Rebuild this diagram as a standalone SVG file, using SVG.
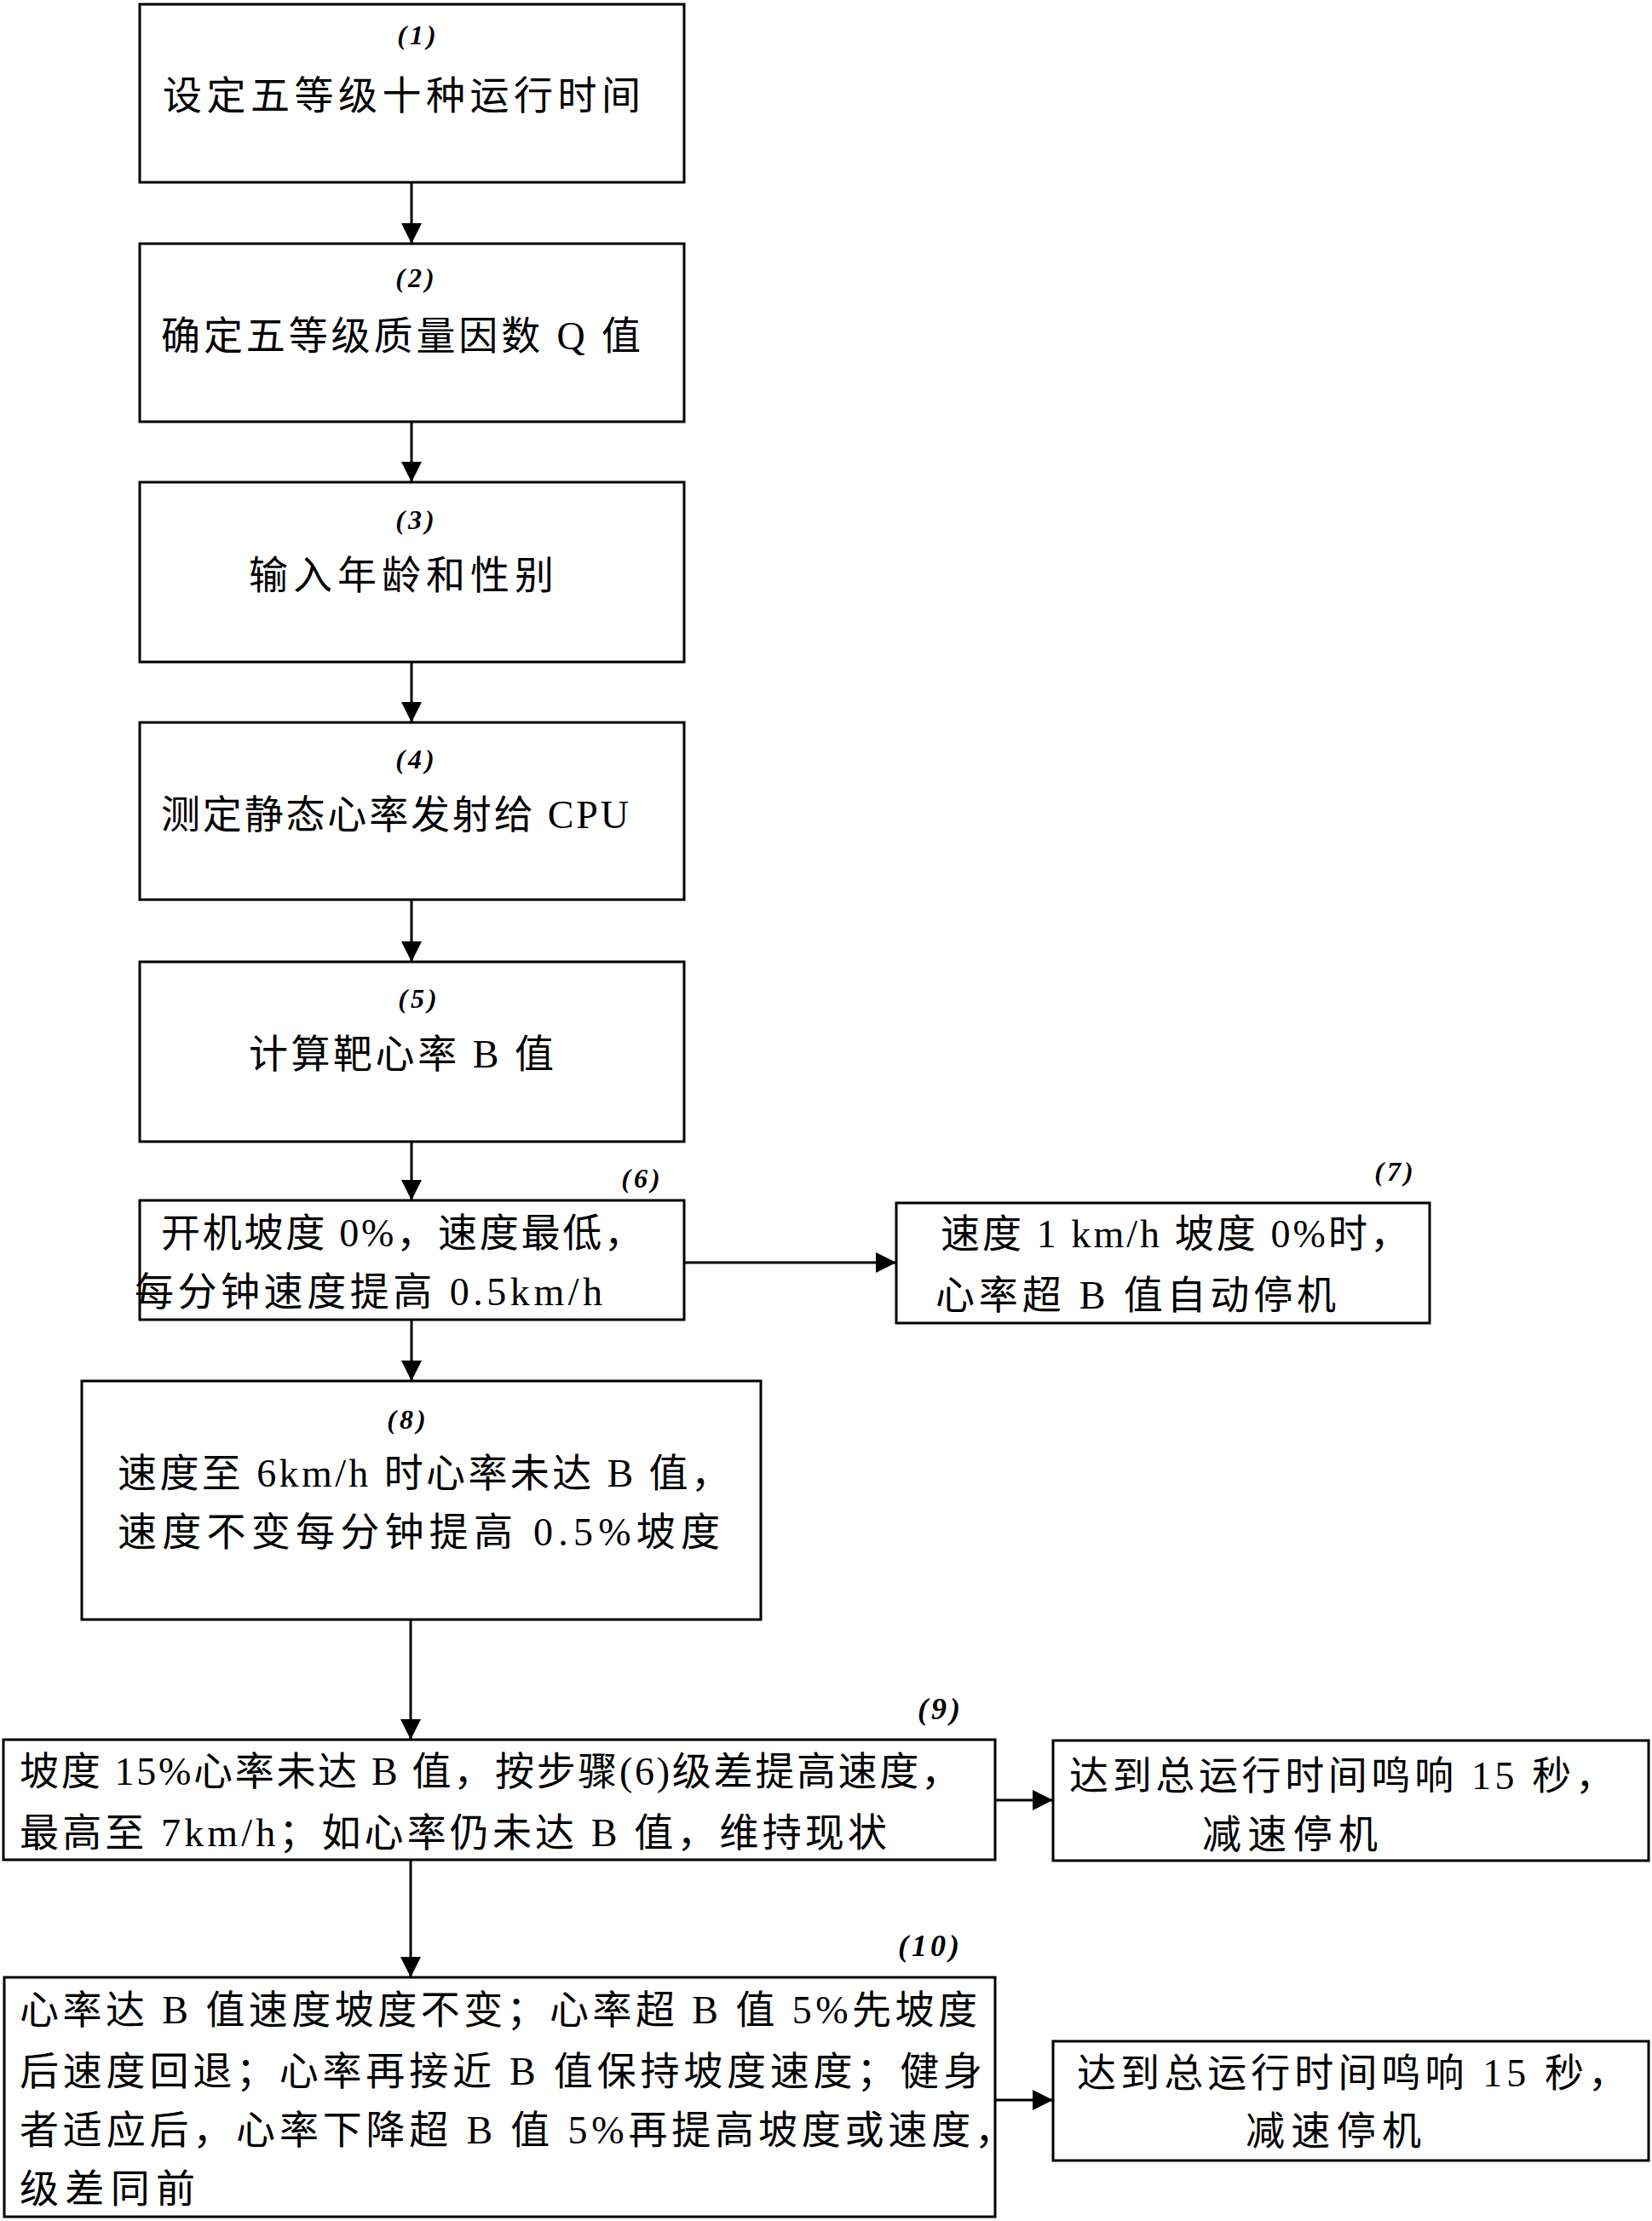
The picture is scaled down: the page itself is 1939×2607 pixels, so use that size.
<svg xmlns="http://www.w3.org/2000/svg" width="1939" height="2607" viewBox="0 0 1939 2607">
<style>
.box{fill:#fff;stroke:#000;stroke-width:3}
.t{font-family:"Liberation Serif","Noto Sans CJK SC",serif;font-size:46px;fill:#000}
.lb{font-family:"Liberation Serif",serif;font-style:italic;font-weight:bold;font-size:32px;letter-spacing:4px;fill:#000;text-anchor:middle}
.lb2{font-family:"Liberation Serif",serif;font-style:italic;font-weight:bold;font-size:36px;letter-spacing:4px;fill:#000;text-anchor:middle}
.c{stroke:#000;stroke-width:3;fill:none;marker-end:url(#ah)}
</style>
<defs>
<marker id="ah" markerUnits="userSpaceOnUse" markerWidth="24" markerHeight="24" refX="24" refY="12" orient="auto">
<path d="M0,0 L24,12 L0,24 z" fill="#000"/>
</marker>
</defs>
<rect width="1939" height="2607" fill="#fff"/>
<g id="connectors">
<line class="c" x1="483" y1="214" x2="483" y2="286"/>
<line class="c" x1="483" y1="495" x2="483" y2="566"/>
<line class="c" x1="483" y1="777" x2="483" y2="848"/>
<line class="c" x1="483" y1="1056" x2="483" y2="1129"/>
<line class="c" x1="483" y1="1340" x2="483" y2="1409"/>
<line class="c" x1="803" y1="1482" x2="1052" y2="1482"/>
<line class="c" x1="483" y1="1549" x2="483" y2="1621"/>
<line class="c" x1="482" y1="1901" x2="482" y2="2042"/>
<line class="c" x1="1168" y1="2113" x2="1236" y2="2113"/>
<line class="c" x1="482" y1="2183" x2="482" y2="2321"/>
<line class="c" x1="1168" y1="2465" x2="1236" y2="2465"/>
</g>
<g id="n1">
<rect class="box" x="164" y="5" width="639" height="209"/>
<text class="lb" x="491" y="52">(1)</text>
<text class="t" x="191" y="128" textLength="561" lengthAdjust="spacing">设定五等级十种运行时间</text>
</g>
<g id="n2">
<rect class="box" x="164" y="286" width="639" height="209"/>
<text class="lb" x="489" y="337">(2)</text>
<text class="t" x="189" y="410" textLength="563" lengthAdjust="spacing">确定五等级质量因数 Q 值</text>
</g>
<g id="n3">
<rect class="box" x="164" y="566" width="639" height="211"/>
<text class="lb" x="489" y="621">(3)</text>
<text class="t" x="292" y="691" textLength="358" lengthAdjust="spacing">输入年龄和性别</text>
</g>
<g id="n4">
<rect class="box" x="164" y="848" width="639" height="208"/>
<text class="lb" x="489" y="902">(4)</text>
<text class="t" x="189" y="972" textLength="549" lengthAdjust="spacing">测定静态心率发射给 CPU</text>
</g>
<g id="n5">
<rect class="box" x="164" y="1129" width="639" height="211"/>
<text class="lb" x="492" y="1183">(5)</text>
<text class="t" x="292" y="1253" textLength="358" lengthAdjust="spacing">计算靶心率 B 值</text>
</g>
<g id="n6">
<rect class="box" x="164" y="1409" width="639" height="140"/>
<text class="lb" x="754" y="1394">(6)</text>
<text class="t" x="189" y="1463" textLength="566" lengthAdjust="spacing">开机坡度 0%，速度最低，</text>
<text class="t" x="158" y="1532" textLength="549" lengthAdjust="spacing">每分钟速度提高 0.5km/h</text>
</g>
<g id="n7">
<rect class="box" x="1052" y="1412" width="626" height="141"/>
<text class="lb" x="1638" y="1386">(7)</text>
<text class="t" x="1104" y="1464" textLength="550" lengthAdjust="spacing">速度 1 km/h 坡度 0%时，</text>
<text class="t" x="1098" y="1536" textLength="470" lengthAdjust="spacing">心率超 B 值自动停机</text>
</g>
<g id="n8">
<rect class="box" x="96" y="1621" width="797" height="280"/>
<text class="lb" x="479" y="1677">(8)</text>
<text class="t" x="138" y="1745" textLength="719" lengthAdjust="spacing">速度至 6km/h 时心率未达 B 值，</text>
<text class="t" x="138" y="1814" textLength="707" lengthAdjust="spacing">速度不变每分钟提高 0.5%坡度</text>
</g>
<g id="n9">
<rect class="box" x="4" y="2042" width="1164" height="141"/>
<text class="lb2" x="1104" y="2018">(9)</text>
<text class="t" x="23" y="2095" textLength="1104" lengthAdjust="spacing">坡度 15%心率未达 B 值，按步骤(6)级差提高速度，</text>
<text class="t" x="23" y="2167" textLength="1018" lengthAdjust="spacing">最高至 7km/h；如心率仍未达 B 值，维持现状</text>
</g>
<g id="n9r">
<rect class="box" x="1236" y="2043" width="699" height="141"/>
<text class="t" x="1255" y="2100" textLength="640" lengthAdjust="spacing">达到总运行时间鸣响 15 秒，</text>
<text class="t" x="1411" y="2169" textLength="206" lengthAdjust="spacing">减速停机</text>
</g>
<g id="n10">
<rect class="box" x="5" y="2321" width="1163" height="281"/>
<text class="lb2" x="1092" y="2296">(10)</text>
<text class="t" x="23" y="2375" textLength="1124" lengthAdjust="spacing">心率达 B 值速度坡度不变；心率超 B 值 5%先坡度</text>
<text class="t" x="23" y="2447" textLength="1130" lengthAdjust="spacing">后速度回退；心率再接近 B 值保持坡度速度；健身</text>
<text class="t" x="23" y="2516" textLength="1167" lengthAdjust="spacing">者适应后，心率下降超 B 值 5%再提高坡度或速度，</text>
<text class="t" x="23" y="2585" textLength="206" lengthAdjust="spacing">级差同前</text>
</g>
<g id="n10r">
<rect class="box" x="1236" y="2396" width="699" height="140"/>
<text class="t" x="1264" y="2449" textLength="646" lengthAdjust="spacing">达到总运行时间鸣响 15 秒，</text>
<text class="t" x="1462" y="2517" textLength="206" lengthAdjust="spacing">减速停机</text>
</g>
</svg>
